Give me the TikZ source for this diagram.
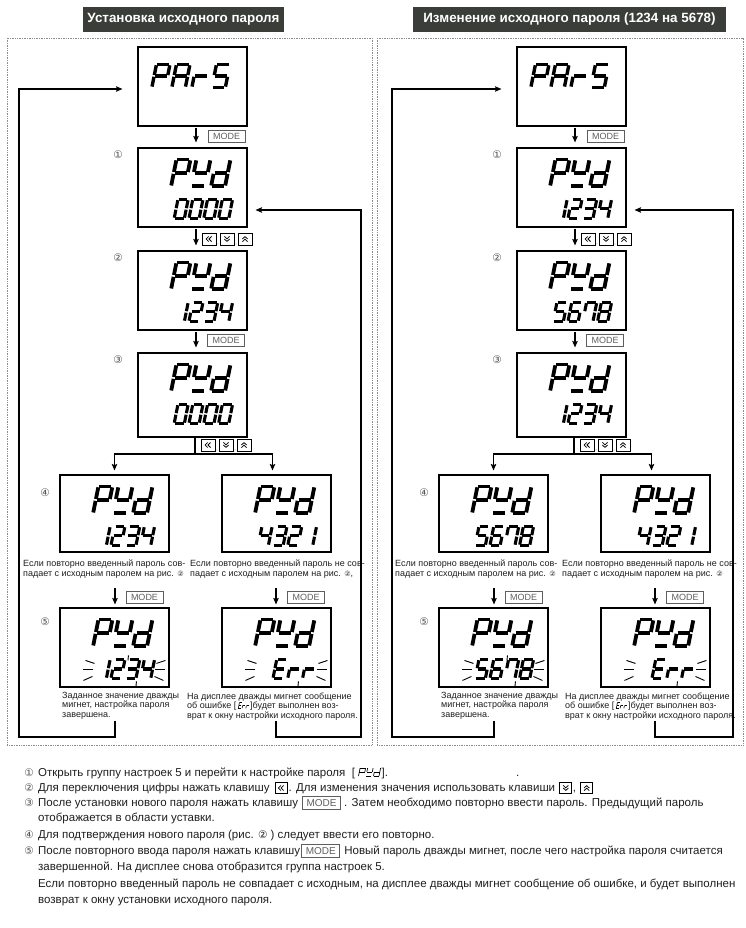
\documentclass[tikz,border=0pt]{standalone}
\usepackage{fontspec}
\setmainfont{Liberation Sans}
\newfontfamily\circfont{DejaVu Sans}
\usetikzlibrary{arrows.meta,positioning,calc}
\definecolor{ink}{HTML}{1E1E1E}
\definecolor{titlebg}{HTML}{3B3D38}
\definecolor{framegray}{HTML}{8C8C8C}
\definecolor{keygray}{HTML}{5E5E5E}
\definecolor{numgray}{HTML}{505050}

% segments a..g of the LCD characters
\expandafter\def\csname lcdP\endcsname{a,b,e,f,g}
\expandafter\def\csname lcdA\endcsname{a,b,c,e,f,g}
\expandafter\def\csname lcdr\endcsname{e,g}
\expandafter\def\csname lcdS\endcsname{a,c,d,f,g}
\expandafter\def\csname lcdW\endcsname{b,d,f,g}
\expandafter\def\csname lcdd\endcsname{b,c,d,e,g}
\expandafter\def\csname lcdE\endcsname{a,d,e,f,g}
\expandafter\def\csname lcd0\endcsname{a,b,c,d,e,f}
\expandafter\def\csname lcd1\endcsname{b,c}
\expandafter\def\csname lcd2\endcsname{a,b,d,e,g}
\expandafter\def\csname lcd3\endcsname{a,b,c,d,g}
\expandafter\def\csname lcd4\endcsname{b,c,f,g}
\expandafter\def\csname lcd5\endcsname{a,c,d,f,g}
\expandafter\def\csname lcd6\endcsname{a,c,d,e,f,g}
\expandafter\def\csname lcd7\endcsname{a,b,c,f}
\expandafter\def\csname lcd8\endcsname{a,b,c,d,e,f,g}

% [line width]{top left}{pitch}{char width}{char height}{chars}
\newcommand\lcdword[6][3pt]{%
  \edef\lcdlist{#6}%
  \foreach \ch [count=\kk from 0] in \lcdlist {
    \begin{scope}[shift={#2}, xshift=\kk*#3 pt, xslant=0.2, xscale=#4, yscale=#5]
      \coordinate (sga1) at (0,0);  \coordinate (sga2) at (1,0);
      \coordinate (sgb1) at (1,0);  \coordinate (sgb2) at (1,.5);
      \coordinate (sgc1) at (1,.5); \coordinate (sgc2) at (1,1);
      \coordinate (sgd1) at (0,1);  \coordinate (sgd2) at (1,1);
      \coordinate (sge1) at (0,.5); \coordinate (sge2) at (0,1);
      \coordinate (sgf1) at (0,0);  \coordinate (sgf2) at (0,.5);
      \coordinate (sgg1) at (0,.5); \coordinate (sgg2) at (1,.5);
      \edef\segs{\csname lcd\ch\endcsname}
      \foreach \sg in \segs {\draw[lcdseg=#1] (sg\sg1) -- (sg\sg2);}
    \end{scope}}}

% P-W-d over a number
\newcommand\pwdscreen[2]{%
  \lcdword[3.8pt]{($(#1.north west)+(39,12)$)}{20}{14}{27}{P,W,d}
  \lcdword[3.1pt]{($(#1.north west)+(40.5,52)$)}{14.8}{10.2}{19}{#2}}

% flashing rays round the lower row
\newcommand\blinkrays[1]{%
  \draw[ray] ($(#1.north west)+(35,56)$) -- ++(-9,-3);
  \draw[ray] ($(#1.north west)+(34,62)$) -- ++(-10,0);
  \draw[ray] ($(#1.north west)+(33,69)$) -- ++(-9,4);
  \draw[ray] ($(#1.north west)+(97,56)$) -- ++(9,-3);
  \draw[ray] ($(#1.north west)+(96,62)$) -- ++(10,0);
  \draw[ray] ($(#1.north west)+(95,69)$) -- ++(9,4);
  \draw[ray] ($(#1.north west)+(77,74)$) -- ++(-0.5,5);}

\newcommand\capcirc{\circfont\fontsize{7.2}{7.2}\selectfont}

\tikzset{
  lcd/.style={draw=black,line width=1.1pt,minimum width=109pt,minimum height=79pt,inner sep=0pt},
  lcdseg/.style={line width=#1,line cap=butt,shorten <=0.25*#1,shorten >=0.25*#1},
  lcdseg/.default=3pt,
  ray/.style={line width=0.9pt},
  titlebar/.style={fill=titlebg,text=white,font=\bfseries\fontsize{13.4}{15}\selectfont,minimum height=25pt,inner sep=0pt},
  dotframe/.style={draw=framegray,line width=0.7pt,densely dotted},
  stepnum/.style={font=\circfont\fontsize{10.5}{10.5}\selectfont,text=numgray,inner sep=0pt},
  modekey/.style={draw=keygray,line width=0.7pt,text=keygray,font=\fontsize{9}{10}\selectfont,minimum width=37pt,minimum height=12pt,inner sep=0pt},
  keybox/.style={draw=black,line width=0.8pt,minimum width=14pt,minimum height=12pt,inner sep=0pt},
  keyleft/.style={keybox,path picture={
    \foreach \u in {-1.6,1.2}
      \draw[line width=0.75pt] ([shift={(\u pt+1.3pt,2.5pt)}]path picture bounding box.center) -- ++(-2.5pt,-2.5pt) -- ++(2.5pt,-2.5pt);}},
  keydown/.style={keybox,path picture={
    \foreach \v in {2.6,0}
      \draw[line width=0.75pt] ([shift={(-2.6pt,\v pt)}]path picture bounding box.center) -- ++(2.6pt,-2.4pt) -- ++(2.6pt,2.4pt);}},
  keyup/.style={keybox,path picture={
    \foreach \v in {-2.6,0}
      \draw[line width=0.75pt] ([shift={(-2.6pt,\v pt)}]path picture bounding box.center) -- ++(2.6pt,2.4pt) -- ++(2.6pt,-2.4pt);}},
  keycomma/.style={font=\fontsize{5}{5}\selectfont,text=keygray,inner sep=0pt},
  arr/.style={-{Stealth[length=6.5pt,width=5.5pt,inset=1.2pt]},line width=1.1pt},
  wire/.style={line width=1.1pt},
  captxt/.style={font=\fontsize{9}{9.5}\selectfont,text=ink,align=left,inner sep=0pt},
  note/.style={font=\fontsize{11.5}{13}\selectfont,text=ink,inner sep=0pt,text height=8.5pt,text depth=2.5pt,anchor=west},
  notenum/.style={font=\circfont\fontsize{10.5}{10.5}\selectfont,text=numgray,inner sep=0pt}
}

\begin{document}
\begin{tikzpicture}[x=1pt,y=-1pt]
\useasboundingbox (0,0) rectangle (745,928);
\node[titlebar,minimum width=201pt] (title-L) at (183.5,19.5) {Установка исходного пароля};
\node[titlebar,minimum width=313pt] (title-R) at (569.5,19.5) {Изменение исходного пароля (1234 на 5678)};
\draw[dotframe] (7,38) rectangle (372,745);
\draw[dotframe] (377,38) rectangle (743,745);

\foreach \col/\dx/\va/\vb/\lx/\rx/\xa/\xb/\xc/\cm in {
  L/0/{0,0,0,0}/{1,2,3,4}/19/361/23/190/187/{,},
  R/379/{1,2,3,4}/{5,6,7,8}/392/733/395/562/565/{}}{
 % displays
 \node[lcd] (pars-\col) at (\dx+192.5,86.5) {};
 \node[lcd] (d1-\col) at (\dx+192.5,187.5) {};
 \node[lcd] (d2-\col) at (\dx+192.5,290.5) {};
 \node[lcd,minimum height=84pt] (d3-\col) at (\dx+192.5,395) {};
 \node[lcd,minimum height=77pt] (d4a-\col) at (\dx+114.5,513.5) {};
 \node[lcd,minimum height=77pt] (d4b-\col) at (\dx+276.5,513.5) {};
 \node[lcd] (d5a-\col) at (\dx+114.5,647.5) {};
 \node[lcd] (d5b-\col) at (\dx+276.5,647.5) {};
 \lcdword[3.4pt]{($(pars-\col.north west)+(19,18)$)}{20}{13.5}{23}{P,A,r,S}
 \pwdscreen{d1-\col}{\va}
 \pwdscreen{d2-\col}{\vb}
 \pwdscreen{d3-\col}{\va}
 \pwdscreen{d4a-\col}{\vb}
 \pwdscreen{d4b-\col}{4,3,2,1}
 \pwdscreen{d5a-\col}{\vb}
 \blinkrays{d5a-\col}
 \draw[ray] ($(d5a-\col.north west)+(69,48)$) -- ++(-0.5,5);
 \lcdword[3.8pt]{($(d5b-\col.north west)+(39,12)$)}{20}{14}{27}{P,W,d}
 \lcdword[3.1pt]{($(d5b-\col.north west)+(55.3,52)$)}{14.8}{10.2}{19}{E,r,r}
 \blinkrays{d5b-\col}
 % step numbers
 \node[stepnum] (s1-\col) at (\dx+118,155) {①};
 \node[stepnum] (s2-\col) at (\dx+118,258) {②};
 \node[stepnum] (s3-\col) at (\dx+118,360) {③};
 \node[stepnum] (s4-\col) at (\dx+45,493) {④};
 \node[stepnum] (s5-\col) at (\dx+45,622) {⑤};
 % keys between the displays
 \draw[arr,shorten <=1pt,shorten >=5pt] ([xshift=3.5pt]pars-\col.south) -- ([xshift=3.5pt]d1-\col.north);
 \node[modekey] (m1-\col) at (\dx+226.5,136.5) {MODE};
 \draw[arr,shorten <=1pt,shorten >=5pt] ([xshift=3.5pt]d1-\col.south) -- ([xshift=3.5pt]d2-\col.north);
 \node[keyleft] (k1-\col) at (\dx+209,239) {};
 \node[keydown] (k2-\col) at (\dx+227,239) {};
 \node[keyup] (k3-\col) at (\dx+245,239) {};
 \node[keycomma] at (\dx+218,245) {,};
 \node[keycomma] at (\dx+236,245) {,};
 \draw[arr,shorten <=1pt,shorten >=5pt] ([xshift=3.5pt]d2-\col.south) -- ([xshift=3.5pt]d3-\col.north);
 \node[modekey] (m2-\col) at (\dx+226,340.5) {MODE};
 \node[keyleft] (k4-\col) at (\dx+208,445) {};
 \node[keydown] (k5-\col) at (\dx+226,445) {};
 \node[keyup] (k6-\col) at (\dx+244,445) {};
 \node[keycomma] at (\dx+217,451) {,};
 \node[keycomma] at (\dx+235,451) {,};
 \coordinate (split-\col) at (\dx+195,454);
 \draw[wire] ([xshift=2.5pt]d3-\col.south) -- (split-\col);
 \draw[arr,shorten >=4pt] (split-\col) -| (d4a-\col.north);
 \draw[arr,shorten >=4pt] (split-\col) -| ([xshift=-4pt]d4b-\col.north);
 % captions
 \node[captxt,anchor=north west] (c4a-\col) at (\xa,560) {Если повторно введенный пароль сов-\\падает с исходным паролем на рис. {\capcirc ②}};
 \node[captxt,anchor=north west] (c4b-\col) at (\xb,560) {Если повторно введенный пароль не сов-\\падает с исходным паролем на рис. {\capcirc ②}\cm};
 \coordinate (m4a-\col) at (\dx+115,588);
 \coordinate (m4b-\col) at (\dx+276,588);
 \draw[arr,shorten >=3pt] (m4a-\col) -- (m4a-\col |- d5a-\col.north);
 \draw[arr,shorten >=3pt] (m4b-\col) -- (m4b-\col |- d5b-\col.north);
 \node[modekey] (m3-\col) at (\dx+144.5,597.5) {MODE};
 \node[modekey] (m4-\col) at (\dx+306,597.5) {MODE};
 \node[captxt,anchor=north west] (c5a-\col) at (\dx+62,692) {Заданное значение дважды\\мигнет, настройка пароля\\завершена.};
 \node[captxt,anchor=base west] (c5b-\col) at (\xc,699) {На дисплее дважды мигнет сообщение};
 \node[captxt,anchor=base west] (c5c-\col) at (\xc,708.5) {об ошибке [};
 \node[captxt,anchor=base west,minimum width=13pt] (c5e-\col) at (c5c-\col.base east) {};
 \node[captxt,anchor=base west] (c5d-\col) at (c5e-\col.base east) {]будет выполнен воз-};
 \node[captxt,anchor=base west] (c5f-\col) at (\xc,718) {врат к окну настройки исходного пароля.};
 \lcdword[0.6pt]{($(c5e-\col.base west)+(3,-6.4)$)}{3.8}{2.6}{6.4}{E,r,r}
 % loops back
 \coordinate (back-a-\col) at (\dx+115,721);
 \coordinate (back-b-\col) at (\dx+276,721);
 \draw[arr,shorten >=15pt] (back-a-\col) |- (\lx,737) |- ([yshift=-2.5pt]pars-\col.west);
 \draw[arr,shorten >=8pt] (back-b-\col) |- (\rx,737) |- ([yshift=-22.5pt]d1-\col.east);
}

% notes
\foreach \n/\y in {①/773,②/788,③/803,④/835,⑤/851}
  \node[notenum] (num-\y) at (29,\y) {\n};
\node[note] (n1a) at (38,773) {Открыть группу настроек 5 и перейти к настройке пароля~~[};
\node[note,minimum width=26pt,right=0pt of n1a] (n1s) {};
\node[note,right=0pt of n1s] (n1b) {].};
\node[note] (n1c) at (516,773) {.};
\lcdword[0.7pt]{($(n1s.west)+(5,-5)$)}{7.5}{5.5}{8.2}{P,W,d}
\node[note] (n2a) at (38,788) {Для переключения цифры нажать клавишу};
\node[keyleft,minimum width=12pt,minimum height=11pt,right=5pt of n2a] (n2k1) {};
\node[note,right=1pt of n2k1] (n2b) {. Для изменения значения использовать клавиши};
\node[keydown,minimum width=12pt,minimum height=11pt,right=4pt of n2b] (n2k2) {};
\node[note,right=0.5pt of n2k2] (n2c) {,};
\node[keyup,minimum width=12pt,minimum height=11pt,right=4pt of n2c] (n2k3) {};
\node[note] (n3a) at (38,803) {После установки нового пароля нажать клавишу};
\node[modekey,font=\fontsize{10}{11}\selectfont,minimum width=38pt,minimum height=12.5pt,right=4pt of n3a] (n3m) {MODE};
\node[note,right=3pt of n3m] (n3b) {. Затем необходимо повторно ввести пароль. Предыдущий пароль};
\node[note] (n3c) at (38,818) {отображается в области уставки.};
\node[note] (n4a) at (38,835) {Для подтверждения нового пароля (рис. {\circfont\fontsize{10.5}{10.5}\selectfont ②} ) следует ввести его повторно.};
\node[note] (n5a) at (38,851) {После повторного ввода пароля нажать клавишу};
\node[modekey,font=\fontsize{10}{11}\selectfont,minimum width=38pt,minimum height=12.5pt,right=1pt of n5a] (n5m) {MODE};
\node[note,right=4pt of n5m] (n5b) {Новый пароль дважды мигнет, после чего настройка пароля считается};
\node[note] (n5c) at (38,867) {завершенной. На дисплее снова отобразится группа настроек 5.};
\node[note] (n5d) at (38,884) {Если повторно введенный пароль не совпадает с исходным, на дисплее дважды мигнет сообщение об ошибке, и будет выполнен};
\node[note] (n5e) at (38,900) {возврат к окну установки исходного пароля.};
\end{tikzpicture}
\end{document}
